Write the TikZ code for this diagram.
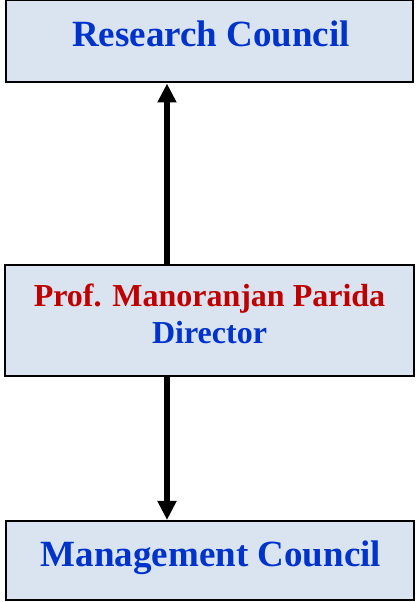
\documentclass[tikz,border=0pt]{standalone}
\usepackage{fontspec}
\setmainfont{Liberation Serif}
\usetikzlibrary{arrows.meta}
\definecolor{boxfill}{HTML}{DAE3F0}
\definecolor{txtblue}{HTML}{0033CC}
\definecolor{txtred}{HTML}{C00000}
\begin{document}
\begin{tikzpicture}[x=1pt,y=1pt,
  orgbox/.style={draw=black,line width=2pt,fill=boxfill,rectangle,inner sep=0pt},
  lbl/.style={anchor=base,inner sep=0pt,font=\bfseries},
  conn/.style={line width=5.5pt,-{Triangle[width=18pt,length=19pt]}}]
\useasboundingbox (0,0) rectangle (416,602);
\node[orgbox,minimum width=407pt,minimum height=82pt] (top) at (209.5,560.5) {};
\node[orgbox,minimum width=409pt,minimum height=111pt] (mid) at (209.5,281.5) {};
\node[orgbox,minimum width=408pt,minimum height=79pt] (bot) at (210,41.5) {};
\node[lbl,text=txtblue,font=\bfseries\fontsize{37}{40}\selectfont] (toptxt) at (211,555) {Research Council};
\node[lbl,text=txtred,font=\bfseries\fontsize{32}{36}\selectfont] (midtxt1) at (209.5,295) {Prof. Manoranjan Parida};
\node[lbl,text=txtblue,font=\bfseries\fontsize{32}{36}\selectfont] (midtxt2) at (209.5,258) {Director};
\node[lbl,text=txtblue,font=\bfseries\fontsize{37}{40}\selectfont] (bottxt) at (211,35) {Management Council};
\draw[conn] (mid.north -| 167,0) -- (top.south -| 167,0);
\draw[conn] (mid.south -| 167,0) -- (bot.north -| 167,0);
\end{tikzpicture}
\end{document}
